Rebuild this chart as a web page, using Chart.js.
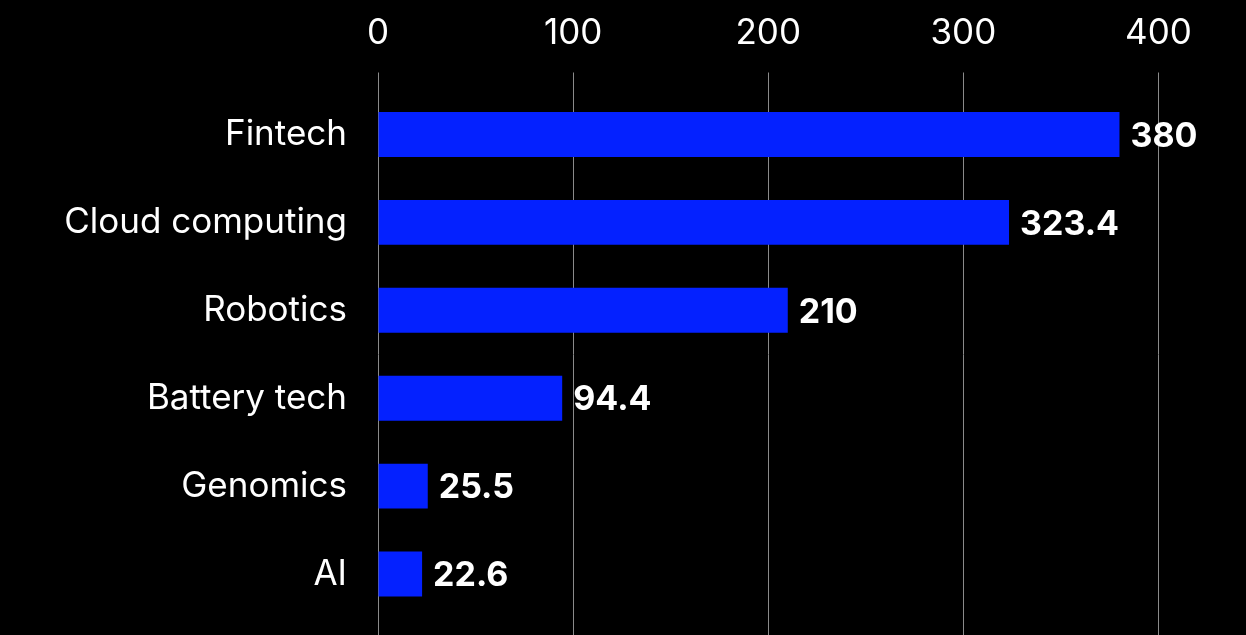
<!DOCTYPE html>
<html>
<head>
<meta charset="utf-8">
<script src="https://cdn.jsdelivr.net/npm/chart.js@4/dist/chart.umd.min.js"></script>
<style>
  html, body { margin: 0; padding: 0; background: #000; overflow: hidden; }
  #wrap { width: 1246px; height: 635px; }
</style>
</head>
<body>
<div id="wrap"><canvas id="c" width="1246" height="635"></canvas></div>
<script>
const categories = ["Fintech", "Cloud computing", "Robotics", "Battery tech", "Genomics", "AI"];
const values = [380, 323.4, 210, 94.4, 25.5, 22.6];
const valueLabels = ["380", "323.4", "210", "94.4", "25.5", "22.6"];
const xTicks = [0, 100, 200, 300, 400];

const FONT = "Inter, Lato, 'Noto Sans', sans-serif";

const valueLabelPlugin = {
  id: 'valueLabels',
  afterDatasetsDraw(chart) {
    const ctx = chart.ctx;
    const meta = chart.getDatasetMeta(0);
    ctx.save();
    ctx.fillStyle = '#ffffff';
    ctx.font = "700 34px " + FONT;
    ctx.textAlign = 'left';
    ctx.textBaseline = 'middle';
    meta.data.forEach((bar, i) => {
      ctx.fillText(valueLabels[i], bar.x + 11, bar.y + 2);
    });
    ctx.restore();
  }
};

new Chart(document.getElementById('c'), {
  type: 'bar',
  data: {
    labels: categories,
    datasets: [{
      data: values,
      backgroundColor: '#0421ff',
      borderWidth: 0,
      categoryPercentage: 1,
      barPercentage: 0.51,
      xAxisID: 'x'
    }]
  },
  options: {
    indexAxis: 'y',
    responsive: false,
    animation: false,
    layout: { padding: { left: 0, right: 87.5, top: 0, bottom: 0 } },
    plugins: { legend: { display: false }, tooltip: { enabled: false } },
    scales: {
      x: {
        position: 'top',
        min: 0, max: 400,
        afterBuildTicks(scale) { scale.ticks = xTicks.map(v => ({ value: v })); },
        afterFit(scale) { scale.height = 90.5; },
        grid: { color: '#8a8a8a', lineWidth: 1, drawTicks: true, tickLength: 18, tickColor: '#8a8a8a' },
        border: { display: false },
        ticks: { color: '#ffffff', font: { family: FONT, size: 35, weight: '400' }, padding: 18, maxRotation: 0 }
      },
      x2: {
        position: 'bottom',
        type: 'linear',
        min: 0, max: 400,
        afterBuildTicks(scale) { scale.ticks = xTicks.map(v => ({ value: v })); },
        afterFit(scale) { scale.height = 17; },
        grid: { drawOnChartArea: false, drawTicks: true, tickLength: 17, tickColor: '#8a8a8a', color: '#8a8a8a' },
        border: { display: false },
        ticks: { display: false }
      },
      y: {
        afterFit(scale) { scale.width = 378; scale.paddingTop = 0; scale.paddingBottom = 0; },
        grid: { display: false, drawTicks: false },
        border: { display: false },
        ticks: { color: '#ffffff', font: { family: FONT, size: 35, weight: '400' }, padding: 31 }
      }
    }
  },
  plugins: [valueLabelPlugin]
});
</script>
</body>
</html>
